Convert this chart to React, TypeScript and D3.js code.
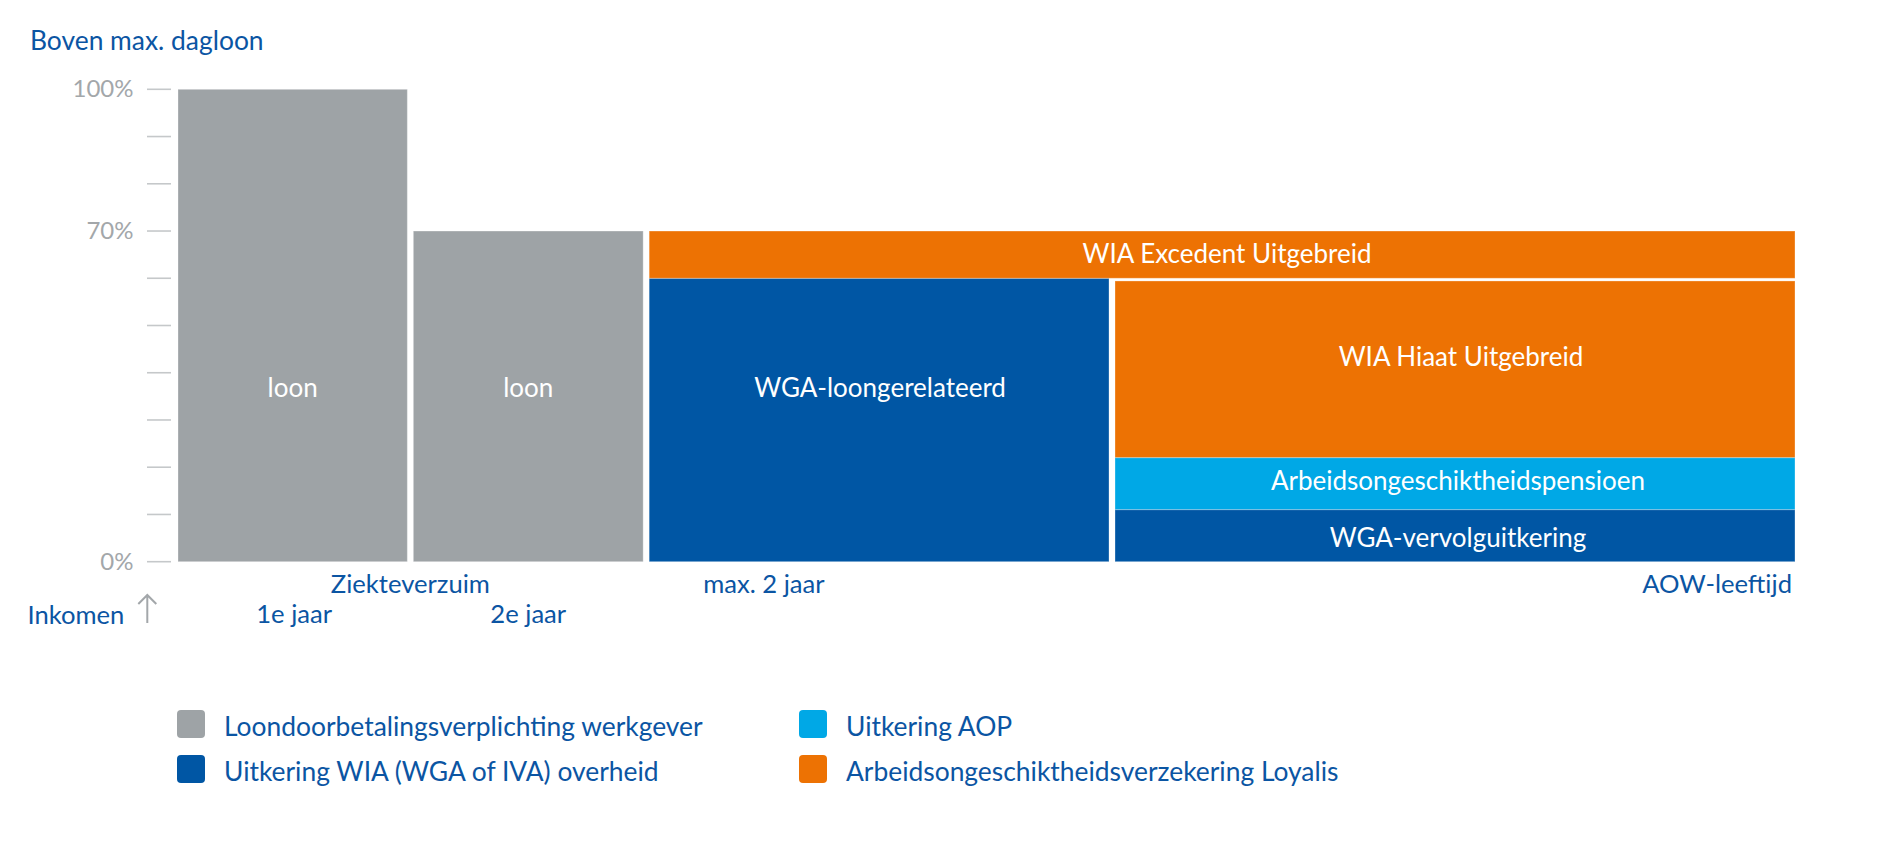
import React from "react";
import * as d3 from "d3";

// ---- data ----
const phaseBounds = [0, 0.995, 2.005, 4.0, 6.925]; // phase boundaries (years, roughly)
const phaseLabelsTop = ["Ziekteverzuim", "max. 2 jaar", "AOW-leeftijd"];
const phaseLabelsBottom = ["1e jaar", "2e jaar"];
const yTicks = [0, 10, 20, 30, 40, 50, 60, 70, 80, 90, 100];
const yTickLabels = [0, 70, 100];

const categories = [
  "Loondoorbetalingsverplichting werkgever",
  "Uitkering WIA (WGA of IVA) overheid",
  "Uitkering AOP",
  "Arbeidsongeschiktheidsverzekering Loyalis",
];

// segments
const segLabels = [
  "loon",
  "loon",
  "WGA-loongerelateerd",
  "WIA Excedent Uitgebreid",
  "WIA Hiaat Uitgebreid",
  "Arbeidsongeschiktheidspensioen",
  "WGA-vervolguitkering",
];
const segPhaseStart = [0, 1, 2, 2, 3, 3, 3];
const segPhaseEnd = [1, 2, 3, 4, 4, 4, 4];
const segFrom = [0, 0, 0, 60, 22, 11, 0];
const segTo = [100, 70, 60, 70, 60, 22, 11];
const segCategory = [0, 0, 1, 3, 3, 2, 1];

// ---- layout / style ----
const W = 1890;
const H = 858;
const colors = ["#9ea3a6", "#0056a4", "#00a8e6", "#ed7203"];
const textBlue = "#0b55a3";
const axisGray = "#a3a7aa";
const tickGray = "#c5c8ca";
const FONT = "Lato, 'Open Sans', sans-serif";
// vertical level (in %) of the label baseline for each segment, and small x nudges
const labelLevel = [34.9, 34.9, 34.9, 63.2, 41.5, 15.2, 3.2];
const labelDx = [0, 0, 1, 5, 6, 3, 3];

export default function App() {
  const maxX = phaseBounds[phaseBounds.length - 1];
  const x = d3.scaleLinear().domain([0, maxX]).range([178, 1795]);
  const y = d3.scaleLinear().domain([0, 100]).range([561.7, 89.3]);
  const gapX = 3;

  const segs = segLabels.map((label, i) => {
    const s = phaseBounds[segPhaseStart[i]];
    const e = phaseBounds[segPhaseEnd[i]];
    const x0 = x(s) + (s > 0 ? gapX : 0);
    const x1 = x(e) - (e < maxX ? gapX : 0);
    const coveredAbove = segTo[i] === 60 && segPhaseStart[i] === 3;
    const y0 = y(segTo[i]) + (coveredAbove ? 2.7 : 0);
    const y1 = y(segFrom[i]);
    return { label, x0, x1, y0, y1, color: colors[segCategory[i]], ly: y(labelLevel[i]), dx: labelDx[i] };
  });

  const arrowX = 147.3;

  return (
    <svg
      width={W}
      height={H}
      style={{ position: "absolute", left: 0, top: 0, background: "#fff" }}
      fontFamily={FONT}
    >
      <text x={30} y={50} fill={textBlue} fontSize={26.4}>
        Boven max. dagloon
      </text>

      {/* y ticks */}
      {yTicks.map((t) => (
        <line key={t} x1={147} x2={171} y1={y(t)} y2={y(t)} stroke={tickGray} strokeWidth={1.6} />
      ))}
      {yTickLabels.map((t) => (
        <text key={t} x={133.5} y={y(t) + 8} textAnchor="end" fill={axisGray} fontSize={24}>
          {t}%
        </text>
      ))}

      {/* segments */}
      {segs.map((s, i) => (
        <rect
          key={"r" + i}
          x={s.x0}
          y={s.y0}
          width={s.x1 - s.x0}
          height={s.y1 - s.y0}
          fill={s.color}
          stroke="rgba(255,255,255,0.3)"
          strokeWidth={1}
        />
      ))}
      {segs.map((s, i) => (
        <text
          key={"t" + i}
          x={(s.x0 + s.x1) / 2 + s.dx}
          y={s.ly}
          textAnchor="middle"
          fill="#fff"
          fontSize={26}
        >
          {s.label}
        </text>
      ))}

      {/* phase labels */}
      <text x={x(phaseBounds[1])} y={593.3} textAnchor="middle" fill={textBlue} fontSize={25.6}>
        {phaseLabelsTop[0]}
      </text>
      <text x={x(phaseBounds[2]) + 57} y={593.3} textAnchor="start" fill={textBlue} fontSize={25.6}>
        {phaseLabelsTop[1]}
      </text>
      <text x={x(phaseBounds[4]) - 3} y={593.3} textAnchor="end" fill={textBlue} fontSize={25.6}>
        {phaseLabelsTop[2]}
      </text>
      {phaseLabelsBottom.map((l, i) => (
        <text
          key={l}
          x={(x(phaseBounds[i]) + x(phaseBounds[i + 1])) / 2}
          y={623.3}
          textAnchor="middle"
          fill={textBlue}
          fontSize={25.6}
        >
          {l}
        </text>
      ))}

      {/* Inkomen arrow */}
      <text x={27.5} y={624} fill={textBlue} fontSize={25.6}>
        Inkomen
      </text>
      <path
        d={`M${arrowX},623 L${arrowX},595 M${arrowX - 9},604 L${arrowX},595 L${arrowX + 9},604`}
        fill="none"
        stroke={axisGray}
        strokeWidth={2}
      />

      {/* legend */}
      {categories.map((c, i) => {
        const col = i < 2 ? 0 : 1;
        const row = i % 2;
        const sx = col === 0 ? 177 : 799;
        const sy = row === 0 ? 710 : 755;
        return (
          <g key={c}>
            <rect x={sx} y={sy} width={28} height={28} rx={4} fill={colors[i]} />
            <text x={sx + 47} y={sy + 26} fill={textBlue} fontSize={26.4}>
              {c}
            </text>
          </g>
        );
      })}
    </svg>
  );
}
